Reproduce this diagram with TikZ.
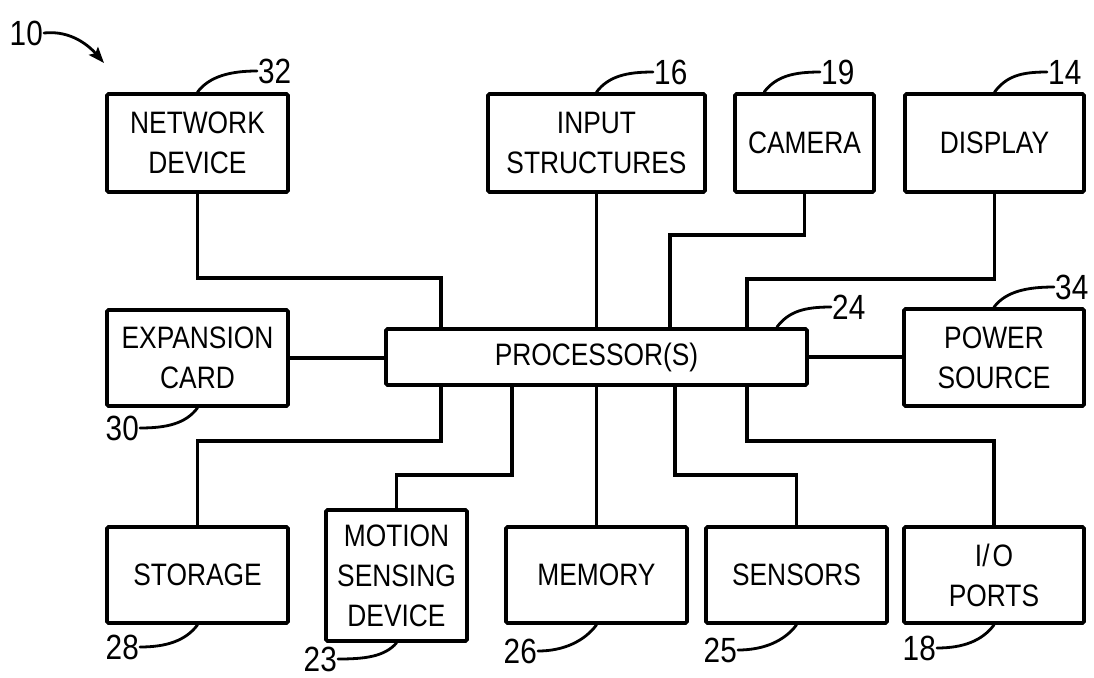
\documentclass[tikz,border=0pt]{standalone}
\usepackage{fontspec}
\setmainfont{Liberation Sans}[FakeStretch=0.85]
\usepackage{tikz}
\usetikzlibrary{calc,arrows.meta,positioning}
\definecolor{inkc}{HTML}{000000}
\tikzset{
  box/.style={draw=inkc,line width=3.8pt,rounded corners=1.5pt,align=center,inner sep=0pt,font=\fontsize{31}{40}\selectfont},
  wire/.style={inkc,line width=3.5pt},
  lead/.style={inkc,line width=2.8pt,line cap=round},
  num/.style={inner sep=1pt,font=\fontsize{35}{40}\selectfont}
}
\begin{document}
\begin{tikzpicture}[x=1pt,y=-1pt]
\useasboundingbox (0,0) rectangle (1094,677);
% blocks
\node[box,minimum width=181pt,minimum height=98pt] (netdev) at (197.5,143) {NETWORK\\DEVICE};
\node[box,minimum width=217pt,minimum height=98pt] (instr) at (596.5,143) {INPUT\\STRUCTURES};
\node[box,minimum width=139pt,minimum height=98pt] (camera) at (804.5,143) {CAMERA};
\node[box,minimum width=179pt,minimum height=98pt] (display) at (994.5,143) {DISPLAY};
\node[box,minimum width=181pt,minimum height=96pt] (expcard) at (197.5,358) {EXPANSION\\CARD};
\node[box,minimum width=421pt,minimum height=56pt] (proc) at (596.5,357) {PROCESSOR(S)};
\node[box,minimum width=180pt,minimum height=97pt] (power) at (994,357.5) {POWER\\SOURCE};
\node[box,minimum width=181pt,minimum height=96pt] (storage) at (197.5,575) {STORAGE};
\node[box,minimum width=141pt,minimum height=131pt] (motion) at (396.5,575.5) {MOTION\\SENSING\\DEVICE};
\node[box,minimum width=181pt,minimum height=96pt] (memory) at (596.5,575) {MEMORY};
\node[box,minimum width=181pt,minimum height=96pt] (sensors) at (796.5,575) {SENSORS};
\node[box,minimum width=180pt,minimum height=96pt] (ioports) at (994,575) {I/\kern3pt O\\PORTS};
% bus lines
\draw[wire] (netdev.south) -- ++(0,84) -| ($(proc.north west)+(57,0)$);
\draw[wire] (instr.south) -- (proc.north);
\draw[wire] (camera.south) -- ++(0,41) -| ($(proc.north west)+(286,0)$);
\draw[wire] (display.south) -- ++(0,85) -| ($(proc.north west)+(363,0)$);
\draw[wire] (expcard.east) -- (expcard.east -| proc.west);
\draw[wire] (proc.east) -- (proc.east -| power.west);
\draw[wire] ($(proc.south west)+(57,0)$) -- ++(0,54) -| (storage.north);
\draw[wire] ($(proc.south west)+(128,0)$) -- ++(0,88) -| (motion.north);
\draw[wire] (proc.south) -- (memory.north);
\draw[wire] ($(proc.south west)+(291,0)$) -- ++(0,88) -| (sensors.north);
\draw[wire] ($(proc.south west)+(363,0)$) -- ++(0,54) -| (ioports.north);
% reference numerals
\node[num,anchor=east] (n10) at (44,33) {10};
\coordinate (tip10) at (104,63);
\draw[lead,-{Stealth[length=16pt,width=12pt,inset=3pt]}] (n10.east) .. controls +(28,-3) and +(-14,-16) .. (tip10);
\node[num,anchor=west] (n32) at (257,71) {32};
\node[num,anchor=west] (n16) at (653,72) {16};
\node[num,anchor=west] (n19) at (820,72) {19};
\node[num,anchor=west] (n14) at (1047,72) {14};
\node[num,anchor=west] (n24) at (831,307) {24};
\node[num,anchor=west] (n34) at (1054,287) {34};
\draw[lead] (netdev.north) .. controls +(12,-16) and +(-26,0) .. (n32.west);
\draw[lead] (instr.north) .. controls +(12,-16) and +(-26,0) .. (n16.west);
\draw[lead] ($(camera.north west)+(31,0)$) .. controls +(12,-16) and +(-26,0) .. (n19.west);
\draw[lead] (display.north) .. controls +(12,-16) and +(-26,0) .. (n14.west);
\draw[lead] ($(proc.north east)+(-32,0)$) .. controls +(12,-16) and +(-26,0) .. (n24.west);
\draw[lead] (power.north) .. controls +(12,-16) and +(-26,0) .. (n34.west);
\node[num,anchor=east] (n30) at (140,428) {30};
\node[num,anchor=east] (n28) at (140,647) {28};
\node[num,anchor=east] (n23) at (338,659) {23};
\node[num,anchor=east] (n26) at (538,651) {26};
\node[num,anchor=east] (n25) at (738,650) {25};
\node[num,anchor=east] (n18) at (937,648) {18};
\draw[lead] (n30.east) .. controls +(26,0) and +(-12,16) .. (expcard.south);
\draw[lead] (n28.east) .. controls +(26,0) and +(-12,16) .. (storage.south);
\draw[lead] (n23.east) .. controls +(26,0) and +(-12,14) .. (motion.south);
\draw[lead] (n26.east) .. controls +(26,0) and +(-12,16) .. (memory.south);
\draw[lead] (n25.east) .. controls +(26,0) and +(-12,16) .. (sensors.south);
\draw[lead] (n18.east) .. controls +(26,0) and +(-12,16) .. (ioports.south);
\end{tikzpicture}
\end{document}
